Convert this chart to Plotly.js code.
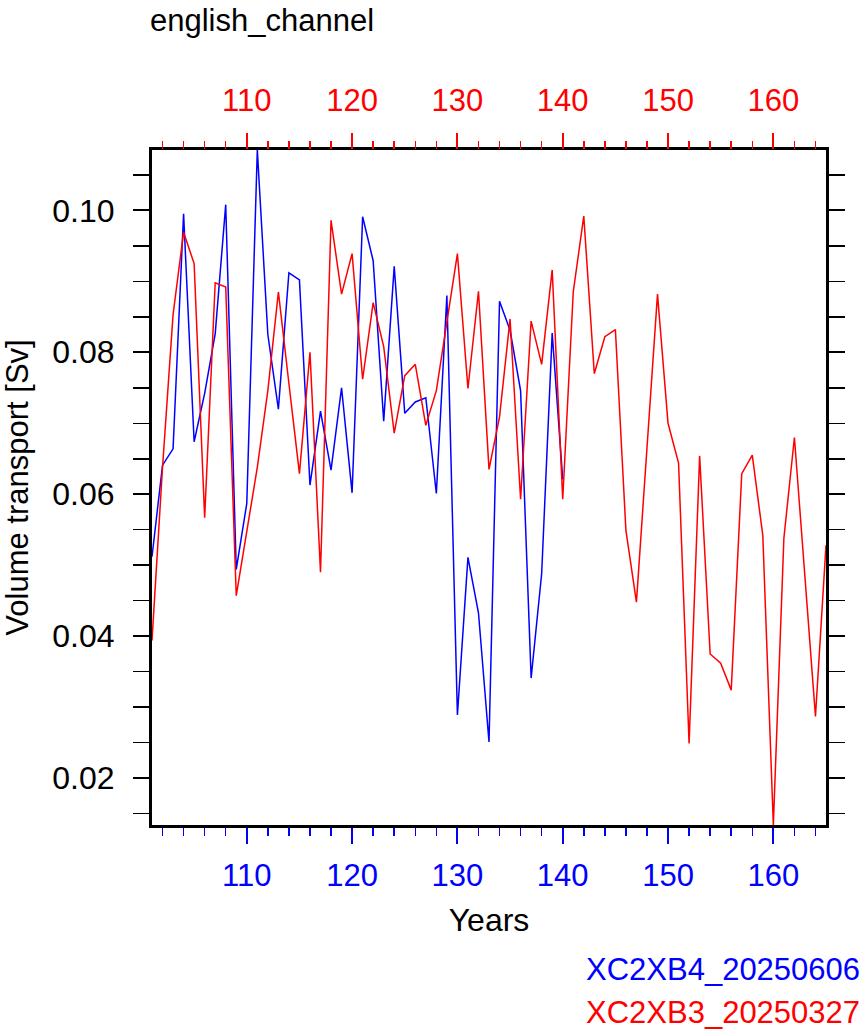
<!DOCTYPE html>
<html>
<head>
<meta charset="utf-8">
<script src="https://cdn.plot.ly/plotly-3.0.1.min.js"></script>
<style>
  html, body { margin: 0; padding: 0; background: #ffffff; }
  #chart { width: 865px; height: 1036px; }
</style>
</head>
<body>
<div id="chart"></div>
<script>
// Annual volume transport through the English Channel for two runs.
const yearsB4 = [101,102,103,104,105,106,107,108,109,110,
                 111,112,113,114,115,116,117,118,119,120,
                 121,122,123,124,125,126,127,128,129,130,
                 131,132,133,134,135,136,137,138,139,140];
const transportB4 = [0.0512,0.0641,0.0664,0.0995,0.0674,0.0742,0.0826,0.1008,0.0494,0.0587,
                     0.1085,0.0825,0.0720,0.0912,0.0902,0.0613,0.0717,0.0634,0.0750,0.0602,
                     0.0991,0.0929,0.0703,0.0921,0.0714,0.0730,0.0736,0.0601,0.0880,0.0289,
                     0.0511,0.0433,0.0251,0.0872,0.0831,0.0746,0.0341,0.0488,0.0827,0.0621];

const yearsB3 = [101,102,103,104,105,106,107,108,109,110,
                 111,112,113,114,115,116,117,118,119,120,
                 121,122,123,124,125,126,127,128,129,130,
                 131,132,133,134,135,136,137,138,139,140,
                 141,142,143,144,145,146,147,148,149,150,
                 151,152,153,154,155,156,157,158,159,160,
                 161,162,163,164,165];
const transportB3 = [0.0394,0.0638,0.0853,0.0969,0.0925,0.0567,0.0898,0.0892,0.0457,0.0550,
                     0.0638,0.0746,0.0885,0.0756,0.0629,0.0800,0.0490,0.0986,0.0882,0.0939,
                     0.0762,0.0870,0.0808,0.0686,0.0767,0.0783,0.0697,0.0746,0.0845,0.0939,
                     0.0749,0.0886,0.0635,0.0709,0.0847,0.0593,0.0844,0.0783,0.0916,0.0593,
                     0.0885,0.0992,0.0770,0.0822,0.0832,0.0549,0.0448,0.0664,0.0882,0.0700,
                     0.0644,0.0249,0.0654,0.0375,0.0362,0.0324,0.0629,0.0655,0.0542,0.0134,
                     0.0538,0.0680,0.0484,0.0287,0.0528];

const runNames = ['XC2XB4_20250606', 'XC2XB3_20250327'];
const runColors = ['#0000ff', '#ff0000'];
const chartTitle = 'english_channel';
const xLabel = 'Years';
const yLabel = 'Volume transport [Sv]';

const FONT = 'Liberation Sans, Arial, Helvetica, sans-serif';

const allYears = yearsB4.concat(yearsB3);
const allValues = transportB4.concat(transportB3);
const xRange = [Math.min(...allYears), Math.max(...allYears)];
const yRange = [Math.min(...allValues), Math.max(...allValues)];

const traces = [
  { x: yearsB4, y: transportB4, xaxis: 'x', yaxis: 'y', type: 'scatter', mode: 'lines',
    name: runNames[0], line: { color: runColors[0], width: 1.5 }, hoverinfo: 'skip' },
  { x: yearsB3, y: transportB3, xaxis: 'x2', yaxis: 'y', type: 'scatter', mode: 'lines',
    name: runNames[1], line: { color: runColors[1], width: 1.5 }, hoverinfo: 'skip' }
];

function timeAxis(color, side, standoff) {
  return {
    range: xRange, side: side, tick0: 0, dtick: 10,
    ticks: 'outside', ticklen: 16, tickwidth: 2, tickcolor: color,
    minor: { tick0: 0, dtick: 2, ticks: 'outside', ticklen: 8, tickwidth: 1.5, tickcolor: color },
    tickfont: { family: FONT, size: 31, color: color },
    ticklabelstandoff: standoff,
    showgrid: false, zeroline: false, fixedrange: true
  };
}

const xBottom = Object.assign(timeAxis(runColors[0], 'bottom', 5), {
  anchor: 'y', showline: true, linecolor: '#000000', linewidth: 3, mirror: true,
  title: { text: xLabel, font: { family: FONT, size: 32, color: '#000000' }, standoff: 17 }
});
const xTop = Object.assign(timeAxis(runColors[1], 'top', 10), {
  anchor: 'y', overlaying: 'x', showline: false
});

const layout = {
  width: 865, height: 1036,
  margin: { l: 152, r: 39, t: 150, b: 211, pad: 0 },
  paper_bgcolor: '#ffffff', plot_bgcolor: '#ffffff',
  showlegend: false,
  title: {
    text: chartTitle, font: { family: FONT, size: 31, color: '#000000' },
    xref: 'container', yref: 'container', x: 150 / 865, xanchor: 'left',
    y: 1 - 20 / 1036, yanchor: 'middle'
  },
  xaxis: xBottom,
  xaxis2: xTop,
  yaxis: {
    range: yRange, tick0: 0, dtick: 0.02, tickformat: '.2f',
    ticks: 'outside', ticklen: 16, tickwidth: 2, tickcolor: '#000000',
    minor: { tick0: 0, dtick: 0.005, ticks: 'outside', ticklen: 10, tickwidth: 1.5, tickcolor: '#000000' },
    tickfont: { family: FONT, size: 32, color: '#000000' },
    ticklabelstandoff: 12,
    showline: true, linecolor: '#000000', linewidth: 3, mirror: 'allticks',
    showgrid: false, zeroline: false, fixedrange: true,
    title: { text: yLabel, font: { family: FONT, size: 31, color: '#000000' }, standoff: 22 }
  },
  annotations: []
};

// Run labels sit under the axis title, right-aligned near the page edge.
const plotW = 865 - 152 - 39, plotH = 1036 - 150 - 211;
const labelRows = [969, 1013];
layout.annotations = runNames.map((name, i) => ({
  text: name, xref: 'paper', yref: 'paper',
  x: (862 - 152) / plotW, xanchor: 'right',
  y: (825 - labelRows[i]) / plotH, yanchor: 'middle', showarrow: false,
  font: { family: FONT, size: 31, color: runColors[i] }
}));

Plotly.newPlot('chart', traces, layout, { displayModeBar: false, staticPlot: true });
</script>
</body>
</html>
